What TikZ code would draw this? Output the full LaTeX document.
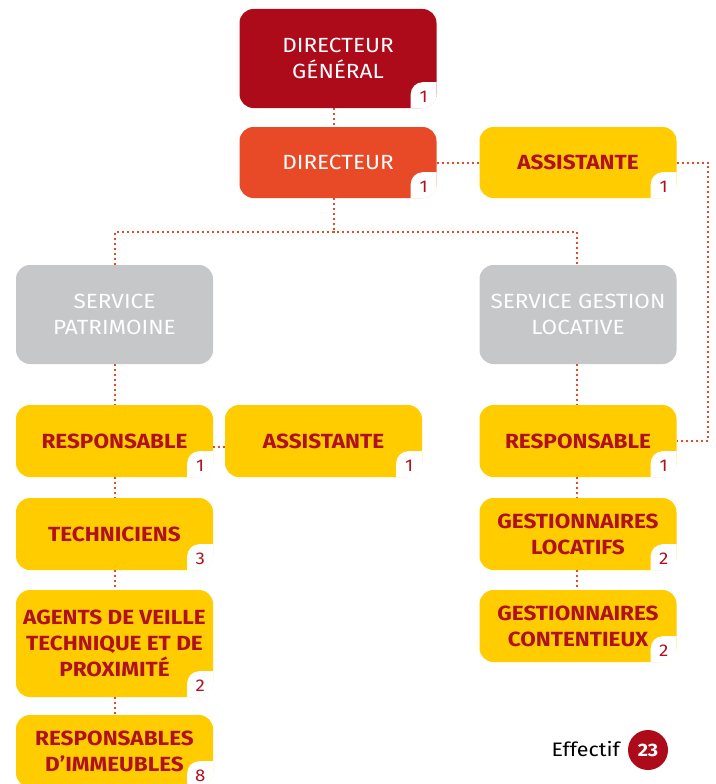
\documentclass[tikz,border=0pt]{standalone}
\usepackage{fontspec}
\setmainfont{Fira Sans}[FakeStretch=1.1]
\usetikzlibrary{calc}
\definecolor{dgred}{HTML}{AD0A1A}
\definecolor{dirorange}{HTML}{E84A27}
\definecolor{yel}{HTML}{FFCC00}
\definecolor{gry}{HTML}{C6C7C8}
\definecolor{txtred}{HTML}{B0111F}
\definecolor{dotc}{HTML}{E84A27}
\tikzset{
  box/.style={rounded corners=14pt, minimum width=197pt, inner sep=0pt, align=center, font=\fontsize{20.5}{26.5}\selectfont},
  dgbox/.style={box, fill=dgred, text=white, minimum height=99pt},
  dirbox/.style={box, fill=dirorange, text=white, minimum height=71pt},
  srvbox/.style={box, fill=gry, text=white, minimum height=99pt},
  yelbox/.style={box, fill=yel, text=txtred, font=\fontsize{20.5}{26}\selectfont\bfseries},
  lnk/.style={draw=dotc, line width=2pt, dash pattern=on 2pt off 3pt},
  numtxt/.style={text=txtred, font=\fontsize{17}{17}\selectfont, inner sep=0pt}
}
\newcommand{\badge}[2]{%
  \begin{scope}
    \clip[rounded corners=14pt] (#1.south west) rectangle (#1.north east);
    \fill[white, rounded corners=12pt] ($(#1.south east)+(-26,-26)$) rectangle ($(#1.south east)+(20,20)$);
  \end{scope}
  \node[numtxt] (#1num) at ($(#1.south east)+(-13,-11)$) {#2};
}
\begin{document}
\begin{tikzpicture}[x=1pt,y=-1pt]
\useasboundingbox (0,0) rectangle (715,784);
% top
\node[dgbox] (dg) at (338,58.5) {DIRECTEUR\\GÉNÉRAL};
\node[dirbox] (dir) at (338,162.5) {DIRECTEUR};
\node[yelbox, minimum height=71pt] (ast) at (578,162.5) {ASSISTANTE};
% services
\node[srvbox] (sp) at (114.5,314.5) {SERVICE\\PATRIMOINE};
\node[srvbox] (sgl) at (578,314.5) {SERVICE GESTION\\LOCATIVE};
% left column
\node[yelbox, minimum height=72pt] (rp) at (114.5,441) {RESPONSABLE};
\node[yelbox, minimum height=72pt] (ap) at (323.5,441) {ASSISTANTE};
\node[yelbox, minimum height=72pt] (tech) at (114.5,534) {TECHNICIENS};
\node[yelbox, minimum height=107pt] (agt) at (114.5,643.5) {AGENTS DE VEILLE\\TECHNIQUE ET DE\\PROXIMITÉ};
\node[yelbox, minimum height=72pt] (ri) at (114.5,751) {RESPONSABLES\\D’IMMEUBLES};
% right column
\node[yelbox, minimum height=72pt] (rg) at (578,441) {RESPONSABLE};
\node[yelbox, minimum height=72pt] (gl) at (578,534) {GESTIONNAIRES\\LOCATIFS};
\node[yelbox, minimum height=72pt] (gc) at (578,626) {GESTIONNAIRES\\CONTENTIEUX};
% badges
\badge{dg}{1}
\badge{dir}{1}
\badge{ast}{1}
\badge{rp}{1}
\badge{ap}{1}
\badge{tech}{3}
\badge{agt}{2}
\badge{ri}{8}
\badge{rg}{1}
\badge{gl}{2}
\badge{gc}{2}
% connectors
\coordinate (j) at (334,232);
\coordinate (rt) at (708,300);
\draw[lnk] ([xshift=-4pt]dg.south) -- ([xshift=-4pt]dir.north);
\draw[lnk] (dir.east) -- (ast.west);
\draw[lnk] ([xshift=-4pt]dir.south) -- (j);
\draw[lnk] ([xshift=0.5pt]sp.north) |- (j) -| ([xshift=-1pt]sgl.north);
\draw[lnk] (ast.east) -| (rt) |- (rg.east);
\draw[lnk] ([xshift=0.5pt]sp.south) -- ([xshift=0.5pt]rp.north);
\draw[lnk] ([xshift=0.5pt]rp.south) -- ([xshift=0.5pt]tech.north);
\draw[lnk] ([xshift=0.5pt]tech.south) -- ([xshift=0.5pt]agt.north);
\draw[lnk] ([xshift=0.5pt]agt.south) -- ([xshift=0.5pt]ri.north);
\draw[lnk] ([yshift=-6pt]rp.east) -- ([yshift=-6pt]ap.west);
\draw[lnk] ([xshift=-1pt]sgl.south) -- ([xshift=-1pt]rg.north);
\draw[lnk] ([xshift=-1pt]rg.south) -- ([xshift=-1pt]gl.north);
\draw[lnk] ([xshift=-1pt]gl.south) -- ([xshift=-1pt]gc.north);
% total
\node[circle, fill=dgred, minimum size=40pt, inner sep=0pt, text=white, font=\fontsize{18}{18}\selectfont\bfseries] (tot) at (648,750) {23};
\node[anchor=east, font=\fontsize{19.5}{19.5}\selectfont, inner sep=0pt] (eff) at (620,749) {Effectif};
\end{tikzpicture}
\end{document}
